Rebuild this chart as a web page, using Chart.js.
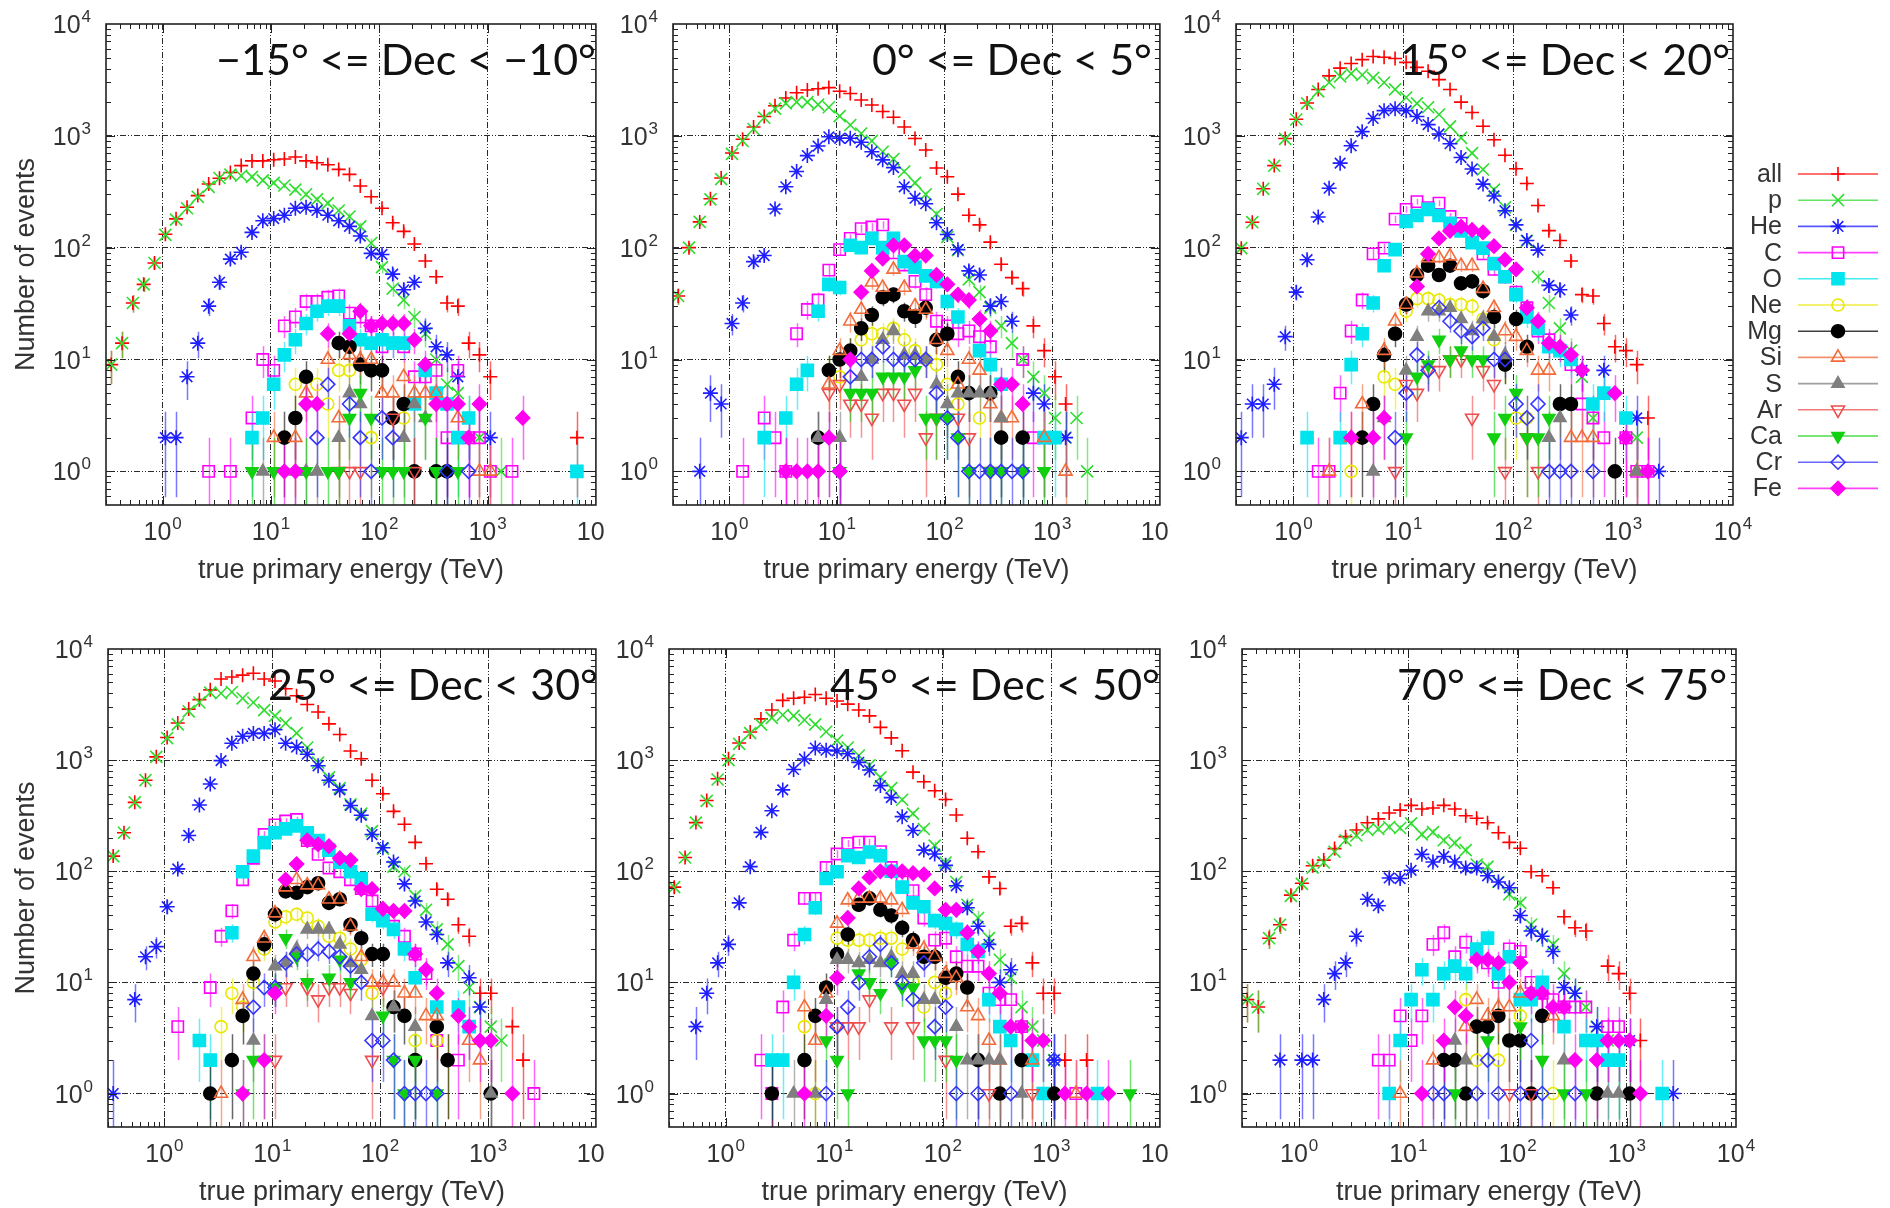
<!DOCTYPE html>
<html>
<head>
<meta charset="utf-8">
<script src="https://cdn.jsdelivr.net/npm/chart.js@4.4.0/dist/chart.umd.min.js"></script>
<style>
  html, body { margin: 0; padding: 0; background: #fff; }
  #page { position: relative; width: 1890px; height: 1208px; overflow: hidden; background: #fff; }
  #page canvas { position: absolute; }
</style>
</head>
<body>
<div id="page"></div>
<script>
const _ = null;

// Energy bin centres (TeV), 10 bins per decade
const energyBins = [0.335, 0.422, 0.531, 0.668, 0.841, 1.06, 1.33, 1.68, 2.11, 2.66,
  3.35, 4.22, 5.31, 6.68, 8.41, 10.6, 13.3, 16.8, 21.1, 26.6,
  33.5, 42.2, 53.1, 66.8, 84.1, 106, 133, 168, 211, 266,
  335, 422, 531, 668, 841, 1060, 1330, 1680, 2110, 2660,
  3350, 4220, 5310, 6680, 8410];

const speciesNames = ['all', 'p', 'He', 'C', 'O', 'Ne', 'Mg', 'Si', 'S', 'Ar', 'Ca', 'Cr', 'Fe'];
const xTickExponents = [0, 1, 2, 3, 4];
const yTickExponents = [0, 1, 2, 3, 4];

// ---- -15 <= Dec < -10 ----
const m15_all = [9,14,32,47,73, 132,181,230,292,371, 418,470,542,597,597, 611,621,646,597,574, 551,501,452,356,285, 225,167,140,108,76, 55,32,30,14,11, 7,_,_,_,_, _,_,_,2];
const m15_p   = [9,14,32,47,73, 130,178,225,285,350, 420,450,440,430,400, 380,360,330,300,270, 250,215,190,155,110, 67,43,34,24,17, 10,6,5,3,2, _,1];
const m15_He  = [_,_,_,_,_, 2,2,7,14,30, 49,79,91,137,174, 182,195,225,230,215, 195,174,155,127,89, 87,58,42,49,19, 13,11,7,_,_, 2];
const m15_C   = [_,_,_,_,_, _,_,_,_,1, _,1,_,3,10, 8,20,24,33,33, 36,37,26,24,20, 13,14,13,7,7, 8,2,8,2,2, 1,_,1];
const m15_O   = [_,_,_,_,_, _,_,_,_,_, _,_,_,2,3, 6,11,15,21,27, 30,30,20,15,14, 15,14,14,4,8, 5,4,2,3,_, _,_,_,_,_, _,_,_,1];
const m15_Ne  = [_,_,_,_,_, _,_,_,_,_, _,_,_,_,_, _,_,6,_,6, 4,8,8,_,2, _,_,3];
const m15_Mg  = [_,_,_,_,_, _,_,_,_,_, _,_,_,_,_, _,2,3,7,_, _,14,13,9,8, 8,3,4,1,_, 1,1];
const m15_Si  = [_,_,_,_,_, _,_,_,_,_, _,_,_,_,_, 2,_,2,5,_, 10,3,11,10,10, 5,5,7,5,5, 5,_,3,_,1, 1];
const m15_S   = [_,_,_,_,_, _,_,_,_,_, _,_,_,_,1, _,_,1,1,1, _,2,5,4,_, _,_,2,4,3];
const m15_Ar  = [_,_,_,_,_, _,_,_,_,_, _,_,_,_,_, _,_,_,_,_, _,1,1,1,_, _,3,_,1];
const m15_Ca  = [_,_,_,_,_, _,_,_,_,_, _,_,_,1,_, 1,_,_,1,_, 1,1,3,5,3, 1,1,1,_,3, 1,_,1];
const m15_Cr  = [_,_,_,_,_, _,_,_,_,_, _,_,_,_,_, _,_,_,_,2, 6,_,4,2,1, 3,2,_,_,_, _,1,_,1];
const m15_Fe  = [_,_,_,_,_, _,_,_,_,_, _,_,_,_,_, _,1,1,4,4, 17,_,17,27,20, 21,21,21,15,9, 4,4,4,2,4, _,_,_,3];

// ---- 0 <= Dec < 5 ----
const d0_all = [37,100,170,274,420, 702,933,1200,1490,1860, 2180,2430,2570,2640,2700, 2505,2390,2090,1885,1650, 1464,1200,947,747,515, 430,301,195,160,112, 71,54,43,20,12, 7,4];
const d0_p   = [37,100,170,270,410, 690,900,1150,1450,1750, 1950,2000,2000,1900,1800, 1500,1250,1050,900,720, 620,480,380,300,200, 125,95,52,40,29, 20,14,10,7,5, 3,2,3,1];
const d0_He  = [_,_,1,5,4, 21,32,75,85,222, 350,480,666,810,980, 950,950,875,720,610, 520,350,277,247,167, 131,96,62,57,30, 33,22,_,5,4, _,2];
const d0_C   = [_,_,_,_,_, _,1,_,3,2, 1,17,28,34,63, 96,121,148,153,160, 90,70,50,38,22, 20,17,18,16,13, _,_,10,2,2];
const d0_O   = [_,_,_,_,_, _,_,_,2,_, 3,6,8,27,47, 44,105,100,121,100, 121,75,67,56,50, 33,24,_,12,9, 6,_,_,_,2, 2];
const d0_Ne  = [_,_,_,_,_, _,_,_,_,_, _,_,_,_,8, 7,12,15,17,17, 19,15,12,10,9, 6,4,_,3];
const d0_Mg  = [_,_,_,_,_, _,_,_,_,_, _,_,_,2,8, 10,12,19,25,36, 38,27,24,29,15, 17,7,5,_,5, 2,_,2];
const d0_Si  = [_,_,_,_,_, _,_,_,_,_, _,_,_,_,6, 12,22,28,49,44, 64,44,30,28,15, 12,6,10,8,4, 3,3,_,_,2, _,1];
const d0_S   = [_,_,_,_,_, _,_,_,_,_, _,_,_,2,2, 2,_,7,10,15, 18,11,11,10,6, 4,5,5,5,5, 3];
const d0_Ar  = [_,_,_,_,_, _,_,_,_,_, _,_,_,_,5, 6,4,4,3,5, 5,4,5,2,3, _,3,2,_,1];
const d0_Ca  = [_,_,_,_,_, _,_,_,_,_, _,_,_,_,_, 1,5,5,5,7, 7,7,8,3,3, 3,2,1,_,1, 1,_,1,_,1];
const d0_Cr  = [_,_,_,_,_, _,_,_,_,_, _,_,_,_,_, 1,7,10,10,13, 10,10,10,10,5, 3,2,1,1,1, 1,1,1];
const d0_Fe  = [_,_,_,_,_, _,_,_,_,_, 1,1,1,1,2, 1,10,40,62,80, 105,105,85,85,57, 47,38,34,23,18, 6,6,4];

// ---- 15 <= Dec < 20 ----
const d15_all = [99,169,336,542,946, 1408,1968,2600,3440,4030, 4440,4800,5120,5040,4920, 4540,4090,3780,3180,2600, 2000,1616,1220,923,671, 508,375,238,142,116, 76,38,37,21,13, 12,9,3];
const d15_p   = [99,169,336,540,940, 1400,1950,2500,3000,3400, 3600,3500,3300,3000,2600, 2200,1950,1800,1550,1215, 960,700,500,330,230, 160,115,55,32,19, 12,7,3,_,_, _,2];
const d15_He  = [2,4,4,6,16, 40,78,188,340,570, 815,1090,1430,1680,1750, 1680,1490,1260,1040,850, 640,505,370,290,214, 160,116,95,46,42, 25,8,_,8,_, _,3,_,1];
const d15_C   = [_,_,_,_,_, _,_,1,1,5, 18,34,88,99,180, 220,258,228,250,190, 165,125,88,64,55, 40,29,18,15,_, 9,4,3,2,_, 2,1,1];
const d15_O   = [_,_,_,_,_, _,2,_,_,2, 9,17,32,69,96, 172,194,220,194,165, 141,111,99,72,55, 38,24,19,13,12, 10,_,4,5,_, 3];
const d15_Ne  = [_,_,_,_,_, _,_,_,_,_, 1,_,_,7,6, 27,35,35,34,31, 31,30,23,15,9, 3,3];
const d15_Mg  = [_,_,_,_,_, _,_,_,_,_, _,2,4,11,17, 31,57,69,57,69, 48,50,41,24,9, 23,13,_,_,4, 4,_,_,_,1];
const d15_Si  = [_,_,_,_,_, _,_,_,1,_, 2,4,_,12,22, 31,59,81,81,84, 69,69,43,29,18, 16,12,8,8,_, 2,2,2,_,_, _,1];
const d15_S   = [_,_,_,_,_, _,_,_,_,_, _,_,1,3,_, 8,16,27,27,29, 23,18,23,16,11, _,_,_,2,3, _,_,_,_,_, _,1];
const d15_Ar  = [_,_,_,_,_, _,_,_,_,_, _,_,_,_,1, 6,5,8,8,10, 10,3,8,6,1, _,2,1];
const d15_Ca  = [_,_,_,_,_, _,_,_,_,_, _,_,_,_,_, 2,7,9,15,10, 12,10,10,2,3, 5,2,2,3];
const d15_Cr  = [_,_,_,_,_, _,_,_,_,_, _,_,_,_,2, 5,11,8,29,22, 18,16,19,10,10, 4,3,4,1,1, 1,_,1];
const d15_Fe  = [_,_,_,_,_, _,_,_,_,_, 2,_,2,3,_, _,45,88,121,141, 154,144,137,103,78, 64,29,22,14,13, 11,8,_,_,5, 2,_,1];

// ---- 25 <= Dec < 30 ----
const d25_all = [137,222,417,660,1070, 1600,2160,2880,3500,4290, 5370,5600,5820,6060,5370, 5160,4390,3800,3170,2710, 2120,1700,1210,1030,660, 498,346,265,182,117, 69,56,33,26,8, 8,_,4,2];
const d25_p   = [137,222,417,660,1070, 1580,2100,2750,3300,4050, 4000,4100,3600,3300,2820, 2500,2150,1750,1300,950, 700,560,400,330,230, 160,110,100,60,45, 30,22,14,9,6, 4,3];
const d25_He  = [1,_,7,17,21, 48,105,210,395,610, 990,1420,1640,1740,1740, 1880,1420,1310,1130,890, 660,540,391,319,214, 163,121,77,54,35, 27,15,_,11,6];
const d25_C   = [_,_,_,_,_, _,4,_,_,9, 26,44,84,131,214, 261,283,292,189,142, 107,99,84,70,54, 40,32,26,18,12, 3,_,2,_,_, _,_,_,_,1];
const d25_O   = [_,_,_,_,_, _,_,_,3,2, _,28,99,137,181, 222,241,256,222,189, 155,121,99,86,41, 36,30,20,11,_, 6,_,6,4];
const d25_Ne  = [_,_,_,_,_, _,_,_,_,_, 4,8,6,10,20, 35,39,41,38,32, 26,25,20,16,8, _,_,_,3,_, 3,2];
const d25_Mg  = [_,_,_,_,_, _,_,_,_,1, _,2,5,12,22, 41,66,64,72,78, 52,56,33,25,18, 18,6,5,2,_, 4,2,_,_,_, 1];
const d25_Si  = [_,_,_,_,_, _,_,_,_,_, 1,_,7,17,25, 42,72,84,75,75, 56,56,32,17,10, 10,10,8,8,5, 5,_,_,3,2];
const d25_S   = [_,_,_,_,_, _,_,_,_,_, _,_,_,3,_, 14,15,20,30,30, 30,22,15,13,5, _,6,_,4,_, _,_,_,_,_, 1];
const d25_Ar  = [_,_,_,_,_, _,_,_,_,_, _,_,_,_,_, 2,9,_,9,7, 9,9,8,_,2, 9];
const d25_Ca  = [_,_,_,_,_, _,_,_,_,_, _,_,1,2,2, 9,25,17,10,_, 11,16,10,_,_, 5,2,1,2,_, 1];
const d25_Cr  = [_,_,_,_,_, _,_,_,_,_, _,_,_,6,9, 9,15,18,18,20, 19,17,14,10,3, 3,2,1,1,1, 1];
const d25_Fe  = [_,_,_,_,_, _,_,_,_,_, _,_,1,_,2, 8,84,116,190,175, 168,131,126,69,69, 46,44,44,18,13, 8,_,5,4,3, 3,_,1];

// ---- 45 <= Dec < 50 ----
const d45_all = [72,133,274,433,680, 1030,1425,1790,2350,2830, 3450,3600,3680,3900,3600, 3400,3190,2830,2500,1970, 1585,1213,780,640,530, 443,321,198,150,89, 70,32,34,15,8, 8,2,_,2];
const d45_p   = [72,133,274,430,670, 1000,1400,1750,2100,2400, 2550,2500,2300,2100,1800, 1500,1300,1100,900,700, 560,440,330,240,170, 120,80,50,38,25, 16,11,6,4,3, 2];
const d45_He  = [_,_,4,8,15, 22,52,110,224,350, 540,824,1025,1285,1230, 1210,1140,955,814,590, 460,310,233,155,143, 113,74,47,32,22, 10,13,_,_,_, 2];
const d45_C   = [_,_,_,_,_, _,_,_,2,1, 6,24,57,57,108, 143,178,183,183,150, 108,80,67,38,24, 25,17,14,14,8, 7,7,4,_,_, _,_,1];
const d45_O   = [_,_,_,_,_, _,_,_,_,2, 2,10,27,47,86, 99,138,133,149,138, 100,72,52,48,36, 34,30,22,19,7, 4,3,_,2,1, _,_,_,_,1];
const d45_Ne  = [_,_,_,_,_, _,_,_,_,_, _,_,4,1,_, 25,24,24,24,25, 25,20,10,6,10, 8];
const d45_Mg  = [_,_,_,_,_, _,_,_,_,1, _,_,2,5,9, 18,27,50,57,45, 40,31,24,17,17, 11,12,9,2,_, 1,_,2,_,_, 1];
const d45_Si  = [_,_,_,_,_, _,_,_,_,_, _,_,6,3,8, 34,55,57,57,57, 55,45,22,20,17, 12,11,6,5,3, 2,_,_,2,_, _,_,1];
const d45_S   = [_,_,_,_,_, _,_,_,_,_, _,1,_,1,7, 16,16,15,16,15, 17,12,12,7,7, _,4,2,2,2, 2,_,1];
const d45_Ar  = [_,_,_,_,_, _,_,_,_,_, _,_,_,_,_, 4,4,4,7,_, 4,_,4,_,_, 2,_,_,_,1, _,_,_,1];
const d45_Ca  = [_,_,_,_,_, _,_,_,_,_, _,_,_,_,3, 2,1,12,10,8, 15,9,9,3,3, 3,2,_,_,_, _,_,_,_,_, _,_,_,_,_, _,_,1];
const d45_Cr  = [_,_,_,_,_, _,_,_,_,_, _,_,_,_,1, 4,6,10,17,22, 15,10,7,15,4, 6,1,_,1,_, _,1,_,_,_, 2];
const d45_Fe  = [_,_,_,_,_, _,_,_,_,_, _,_,1,_,5, 11,38,70,88,100, 100,100,96,94,70, 45,45,28,19,12, 8,4,4,3,3, _,1,_,1,_, 1];

// ---- 70 <= Dec < 75 ----
const d70_all = [7,6,25,33,61, 78,112,126,160,205, 235,273,296,334,355, 392,363,371,392,363, 316,300,273,222,182, 161,99,91,71,39, 31,29,_,14,12, 8,3];
const d70_p   = [7,6,25,33,60, 77,108,120,150,190, 210,235,240,250,245, 270,215,225,190,180, 155,115,110,80,62, 52,33,26,22,12, 8,6,4,3,2];
const d70_He  = [_,_,_,2,_, 2,2,7,12,15, 26,56,49,87,86, 102,142,121,136,121, 107,107,91,80,71, 40,29,26,19,9, 8,_,4,_,_, 3,_,_,_,1];
const d70_C   = [_,_,_,_,_, _,_,_,_,_, _,_,2,2,5, 3,5,22,28,17, 23,17,15,10,20, 19,10,8,7,6, 6,6,3,4,4];
const d70_O   = [_,_,_,_,_, _,_,_,_,_, _,_,_,1,3, 7,13,7,12,14, 12,20,25,12,17, 7,7,10,_,4, _,3,3,2,2, _,_,_,1];
const d70_Ne  = [_,_,_,_,_, _,_,_,_,_, _,_,_,_,_, _,_,_,_,_, 7,2,_,2,_, 5,_,_,1];
const d70_Mg  = [_,_,_,_,_, _,_,_,_,_, _,_,_,_,_, _,_,_,2,2, 1,4,4,5,3, 3,1,5,_,_, _,_,1,_,_, 1];
const d70_Si  = [_,_,_,_,_, _,_,_,_,_, _,_,_,_,1, _,_,2,_,_, 4,7,5,6,6, 8,_,_,5];
const d70_S   = [_,_,_,_,_, _,_,_,_,_, _,_,_,_,_, _,_,_,_,3, 2,_,_,_,_, _,_,_,_,2, _,_,_,1,1];
const d70_Ar  = [_,_,_,_,_, _,_,_,_,_, _,_,_,_,_, _,_,_,_,_, _,_,_,_,1, _,1];
const d70_Ca  = [_,_,_,_,_, _,_,_,_,_, _,_,_,_,_, _,_,_,_,1, _,_,3,_,_, 4,_,2,_,1, _,1];
const d70_Cr  = [_,_,_,_,_, _,_,_,_,_, _,_,_,_,_, _,_,1,1,_, _,1,2,1,_, 1,3,1,_,_, 1];
const d70_Fe  = [_,_,_,_,_, _,_,_,_,_, _,_,_,_,_, _,1,_,3,6, 5,16,16,15,10, 15,8,8,6,6, 2,_,2,3,3, 3,1];

// ---- marker styles per species (gnuplot-like point types) ----
const speciesStyles = [
  { color: '#ff0000', style: 'cross',    r: 7,   open: true },
  { color: '#2fdc2f', style: 'crossRot', r: 8.5, open: true },
  { color: '#1e1eff', style: 'star',     r: 7.5, open: true },
  { color: '#ff00ff', style: 'rect',     r: 8,   open: true },
  { color: '#00e4ee', style: 'rect',     r: 8.5, open: false },
  { color: '#e8e800', style: 'circle',   r: 6,   open: true },
  { color: '#000000', style: 'circle',   r: 6.5, open: false },
  { color: '#f26b3a', style: 'triangle', r: 7.5, open: true },
  { color: '#7f7f7f', style: 'triangle', r: 7,   open: false },
  { color: '#ef4d4d', style: 'triangle', r: 7.5, open: true, rot: 180 },
  { color: '#10d010', style: 'triangle', r: 7,   open: false, rot: 180 },
  { color: '#3434ff', style: 'rectRot',  r: 7,   open: true },
  { color: '#ff00f0', style: 'rectRot',  r: 7,   open: false }
];

const panels = [
  { title: '\u221215\u00b0 <= Dec < \u221210\u00b0', box: [0, 0, 606, 590], pad: [106, 24, 3, 85], titleInset: 0, yTitle: true,
    series: [m15_all, m15_p, m15_He, m15_C, m15_O, m15_Ne, m15_Mg, m15_Si, m15_S, m15_Ar, m15_Ca, m15_Cr, m15_Fe] },
  { title: '0\u00b0 <= Dec < 5\u00b0', box: [606, 0, 564, 590], pad: [67, 24, 3, 85], titleInset: 8,
    series: [d0_all, d0_p, d0_He, d0_C, d0_O, d0_Ne, d0_Mg, d0_Si, d0_S, d0_Ar, d0_Ca, d0_Cr, d0_Fe] },
  { title: '15\u00b0 <= Dec < 20\u00b0', box: [1170, 0, 720, 590], pad: [66, 24, 157, 85], titleInset: 3, legend: true,
    series: [d15_all, d15_p, d15_He, d15_C, d15_O, d15_Ne, d15_Mg, d15_Si, d15_S, d15_Ar, d15_Ca, d15_Cr, d15_Fe] },
  { title: '25\u00b0 <= Dec < 30\u00b0', box: [0, 590, 606, 618], pad: [108, 59, 3, 81], titleInset: -2, yTitle: true,
    series: [d25_all, d25_p, d25_He, d25_C, d25_O, d25_Ne, d25_Mg, d25_Si, d25_S, d25_Ar, d25_Ca, d25_Cr, d25_Fe] },
  { title: '45\u00b0 <= Dec < 50\u00b0', box: [606, 590, 564, 618], pad: [63, 59, 3, 81], titleInset: 0,
    series: [d45_all, d45_p, d45_He, d45_C, d45_O, d45_Ne, d45_Mg, d45_Si, d45_S, d45_Ar, d45_Ca, d45_Cr, d45_Fe] },
  { title: '70\u00b0 <= Dec < 75\u00b0', box: [1170, 590, 720, 618], pad: [72, 59, 154, 81], titleInset: 9,
    series: [d70_all, d70_p, d70_He, d70_C, d70_O, d70_Ne, d70_Mg, d70_Si, d70_S, d70_Ar, d70_Ca, d70_Cr, d70_Fe] }
];

const TICK_FONT = '25px "Liberation Sans", Arial, sans-serif';
const SUP_FONT = '17px "Liberation Sans", Arial, sans-serif';
const AXIS_FONT = '27px "Liberation Sans", Arial, sans-serif';
const LEGEND_FONT = '25px "Liberation Sans", Arial, sans-serif';
const TITLE_FONT = '43px Lato, "Open Sans", sans-serif';

function withAlpha(hex, a) {
  const n = parseInt(hex.slice(1), 16);
  return `rgba(${(n >> 16) & 255},${(n >> 8) & 255},${n & 255},${a})`;
}

// "10" with a raised exponent
function drawPower(ctx, exp, x, baseline, align) {
  ctx.font = TICK_FONT;
  const w1 = ctx.measureText('10').width;
  ctx.font = SUP_FONT;
  const s = String(exp);
  const w2 = ctx.measureText(s).width;
  const total = w1 + 1 + w2;
  const x0 = align === 'center' ? x - total / 2 : x - total;
  ctx.font = TICK_FONT;
  ctx.fillText('10', x0, baseline);
  ctx.font = SUP_FONT;
  ctx.fillText(s, x0 + w1 + 1, baseline - 11);
}

function drawMarker(ctx, st, x, y) {
  ctx.save();
  ctx.strokeStyle = st.color;
  ctx.fillStyle = st.open ? 'rgba(0,0,0,0)' : st.color;
  ctx.lineWidth = 1.6;
  Chart.helpers.drawPoint(ctx, { pointStyle: st.style, rotation: st.rot || 0, radius: st.r, borderWidth: 1.6 }, x, y);
  ctx.restore();
}

const decorPlugin = {
  id: 'decor',
  // Poisson (sqrt N) uncertainty on each bin count, drawn under the markers
  beforeDatasetsDraw(chart) {
    const { ctx, chartArea: a, scales: { x, y } } = chart;
    ctx.save();
    ctx.beginPath();
    ctx.rect(a.left, a.top, a.right - a.left, a.bottom - a.top);
    ctx.clip();
    chart.data.datasets.forEach(ds => {
      ctx.strokeStyle = ds.barColor;
      ctx.lineWidth = 1.5;
      ctx.beginPath();
      ds.data.forEach(p => {
        const s = Math.sqrt(p.y);
        const px = Math.round(x.getPixelForValue(p.x)) + 0.5;
        ctx.moveTo(px, y.getPixelForValue(Math.max(p.y - s, 0.01)));
        ctx.lineTo(px, y.getPixelForValue(p.y + s));
      });
      ctx.stroke();
    });
    ctx.restore();
  },
  afterDraw(chart, args, opts) {
    const { ctx, chartArea: a, scales: { x, y } } = chart;
    ctx.save();
    // inward major/minor ticks on all four sides
    ctx.strokeStyle = '#222';
    ctx.lineWidth = 1;
    ctx.beginPath();
    for (let e = -1; e <= 3; e++) {
      for (let m = 1; m <= 9; m++) {
        const v = m * Math.pow(10, e);
        const len = m === 1 ? 9 : 5;
        if (v > x.min && v < x.max) {
          const px = Math.round(x.getPixelForValue(v)) + 0.5;
          ctx.moveTo(px, a.bottom); ctx.lineTo(px, a.bottom - len);
          ctx.moveTo(px, a.top); ctx.lineTo(px, a.top + len);
        }
        if (v > y.min && v < y.max) {
          const py = Math.round(y.getPixelForValue(v)) + 0.5;
          ctx.moveTo(a.left, py); ctx.lineTo(a.left + len, py);
          ctx.moveTo(a.right, py); ctx.lineTo(a.right - len, py);
        }
      }
    }
    ctx.stroke();
    ctx.lineWidth = 1.6;
    ctx.strokeRect(a.left, a.top, a.right - a.left, a.bottom - a.top);

    // tick labels
    ctx.fillStyle = '#333';
    ctx.textAlign = 'left';
    ctx.textBaseline = 'alphabetic';
    xTickExponents.forEach(e => drawPower(ctx, e, x.getPixelForValue(Math.pow(10, e)), a.bottom + 35, 'center'));
    yTickExponents.forEach(e => drawPower(ctx, e, a.left - 15, y.getPixelForValue(Math.pow(10, e)) + 9, 'right'));

    // axis titles
    ctx.font = AXIS_FONT;
    ctx.textAlign = 'center';
    ctx.fillText('true primary energy (TeV)', (a.left + a.right) / 2, a.bottom + 73);
    if (opts.yTitle) {
      ctx.save();
      ctx.translate(27, (a.top + a.bottom) / 2);
      ctx.rotate(-Math.PI / 2);
      ctx.textBaseline = 'middle';
      ctx.fillText('Number of events', 0, 0);
      ctx.restore();
    }

    // declination band
    ctx.font = TITLE_FONT;
    ctx.fillStyle = '#111';
    ctx.textAlign = 'right';
    ctx.textBaseline = 'alphabetic';
    ctx.fillText(opts.title, a.right - opts.titleInset, a.top + 51);

    // species key
    if (opts.legend) {
      ctx.font = LEGEND_FONT;
      ctx.textAlign = 'right';
      speciesNames.forEach((name, i) => {
        const st = speciesStyles[i];
        const ry = a.top + 150 + i * 26.2;
        ctx.fillStyle = '#333';
        ctx.fillText(name, a.right + 49, ry + 8);
        ctx.strokeStyle = withAlpha(st.color, 0.75);
        ctx.lineWidth = 1.6;
        ctx.beginPath();
        ctx.moveTo(a.right + 65, ry);
        ctx.lineTo(a.right + 145, ry);
        ctx.stroke();
        drawMarker(ctx, st, a.right + 105, ry);
      });
    }
    ctx.restore();
  }
};

function logAxis(min, max) {
  return {
    type: 'logarithmic',
    min: min,
    max: max,
    ticks: { display: false },
    grid: { color: '#2a2a2a', lineWidth: 1, drawTicks: false },
    border: { display: false, dash: [6, 2, 1, 2, 1, 2] },
    afterBuildTicks: s => { s.ticks = [1, 10, 100, 1000].map(v => ({ value: v })); },
    afterFit: s => {
      if (s.isHorizontal()) s.height = 0; else s.width = 0;
      s.paddingLeft = s.paddingRight = s.paddingTop = s.paddingBottom = 0;
    }
  };
}

const page = document.getElementById('page');
const charts = [];
panels.forEach(pn => {
  const cv = document.createElement('canvas');
  const [bx, by, bw, bh] = pn.box;
  cv.width = bw; cv.height = bh;
  cv.style.left = bx + 'px'; cv.style.top = by + 'px';
  cv.style.width = bw + 'px'; cv.style.height = bh + 'px';
  page.appendChild(cv);

  const datasets = pn.series.map((counts, i) => {
    const st = speciesStyles[i];
    const pts = [];
    counts.forEach((n, k) => { if (n !== null && n !== undefined) pts.push({ x: energyBins[k], y: n }); });
    return {
      label: speciesNames[i],
      data: pts,
      showLine: false,
      order: speciesNames.length - i,
      pointStyle: st.style,
      pointRotation: st.rot || 0,
      pointRadius: st.r,
      pointHoverRadius: st.r,
      pointBorderWidth: 1.6,
      pointBorderColor: st.color,
      pointBackgroundColor: st.open ? 'rgba(0,0,0,0)' : st.color,
      barColor: withAlpha(st.color, 0.6)
    };
  });

  const [pl, pt, pr, pb] = pn.pad;
  charts.push(new Chart(cv, {
    type: 'scatter',
    data: { datasets },
    options: {
      responsive: false,
      animation: false,
      devicePixelRatio: 1,
      events: [],
      layout: { padding: { left: pl, top: pt, right: pr, bottom: pb } },
      plugins: {
        legend: { display: false },
        tooltip: { enabled: false },
        decor: { title: pn.title, titleInset: pn.titleInset, yTitle: !!pn.yTitle, legend: !!pn.legend }
      },
      scales: { x: logAxis(0.3, 10000), y: logAxis(0.5, 10000) }
    },
    plugins: [decorPlugin]
  }));
});

if (document.fonts && document.fonts.ready) {
  document.fonts.ready.then(() => charts.forEach(c => c.draw()));
}
</script>
</body>
</html>
